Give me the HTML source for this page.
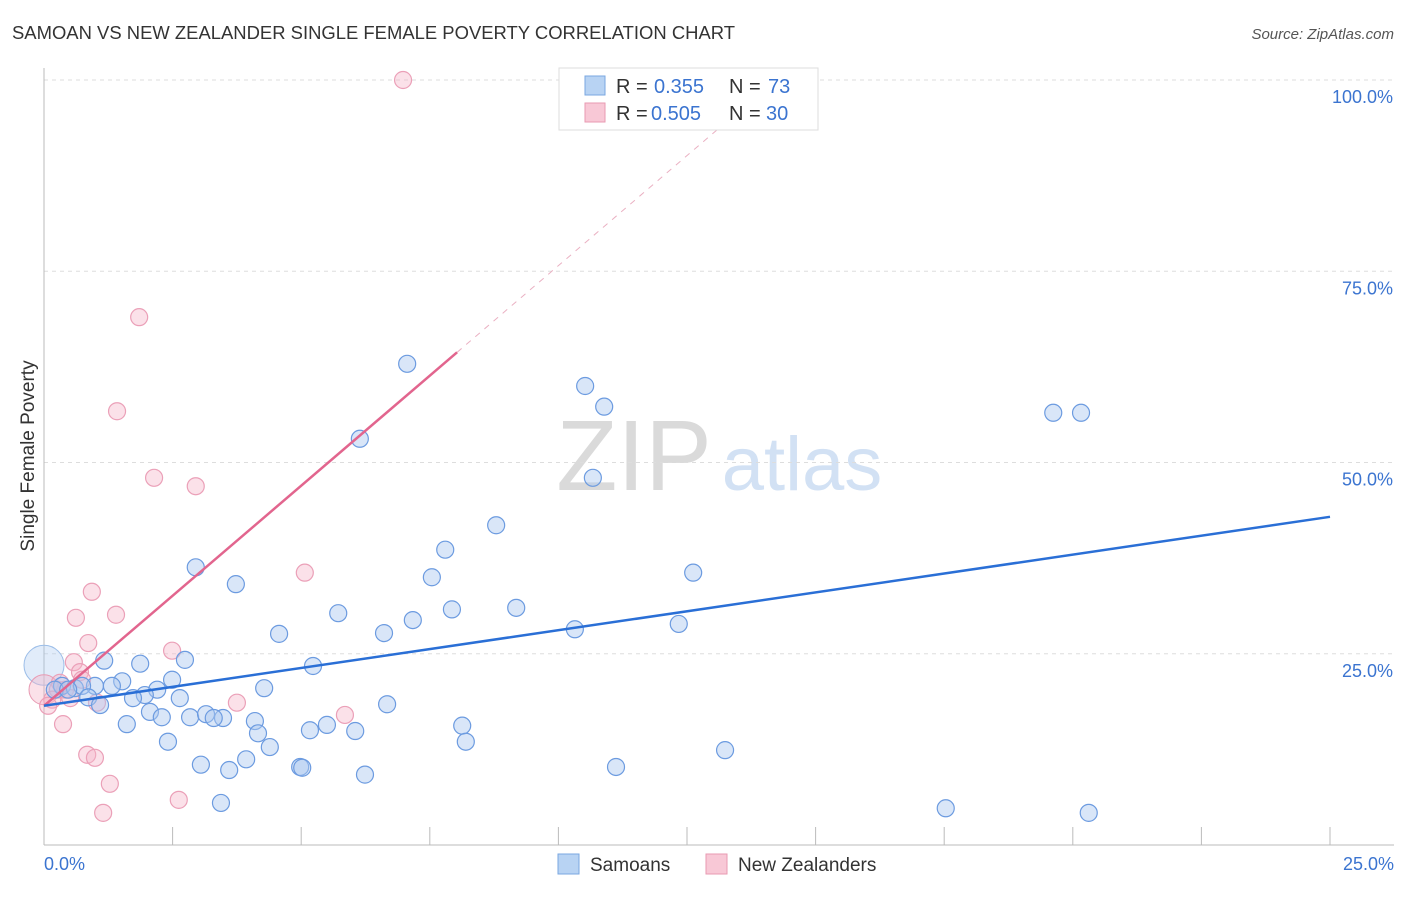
<!DOCTYPE html>
<html><head><meta charset="utf-8"><style>
body{margin:0;background:#fff;font-family:"Liberation Sans",sans-serif}
svg text{font-family:"Liberation Sans",sans-serif}
</style></head><body>
<svg id="c" width="1406" height="892">
<text x="12" y="39" font-size="18" fill="#333" textLength="723" lengthAdjust="spacingAndGlyphs">SAMOAN VS NEW ZEALANDER SINGLE FEMALE POVERTY CORRELATION CHART</text>
<text x="1394" y="39" font-size="15" fill="#555" text-anchor="end" font-style="italic">Source: ZipAtlas.com</text>
<text transform="translate(34,456) rotate(-90)" font-size="19" fill="#333" text-anchor="middle">Single Female Poverty</text>
<g><text x="634" y="490" font-size="100" fill="#dadada" text-anchor="middle" font-family="Liberation Serif">ZIP</text><text x="802" y="490" font-size="76" fill="#d2e1f4" text-anchor="middle">atlas</text></g>
<g id="grid"></g><g id="marks"></g>
<g>
<rect x="559" y="68" width="259" height="62" fill="#fff" stroke="#ddd"/>
<rect x="585" y="76" width="20" height="19" fill="#b8d3f3" stroke="#7aa7e0"/>
<rect x="585" y="103" width="20" height="19" fill="#f8c8d6" stroke="#e89ab2"/>
<text x="616" y="93" font-size="20" fill="#333">R =</text><text x="654" y="93" font-size="20" fill="#3b74d0">0.355</text>
<text x="729" y="93" font-size="20" fill="#333">N =</text><text x="768" y="93" font-size="20" fill="#3b74d0">73</text>
<text x="616" y="120" font-size="20" fill="#333">R =</text><text x="651" y="120" font-size="20" fill="#3b74d0">0.505</text>
<text x="729" y="120" font-size="20" fill="#333">N =</text><text x="766" y="120" font-size="20" fill="#3b74d0">30</text>
</g>
<g>
<rect x="558" y="854" width="21" height="20" fill="#b8d3f3" stroke="#7aa7e0"/>
<text x="590" y="871" font-size="19" fill="#333">Samoans</text>
<rect x="706" y="854" width="21" height="20" fill="#f8c8d6" stroke="#e89ab2"/>
<text x="738" y="871" font-size="19" fill="#333">New Zealanders</text>
</g>
</svg>
<script>
const yTicks=[25,50,75,100];
const xTickLabels=["0.0%","25.0%"];
const blueX=[7.06,10.52,10.89,19.62,20.16,6.14,10.67,8.79,7.80,2.95,3.73,7.54,12.62,5.72,7.93,9.18,7.17,4.57,6.61,10.32,12.34,1.17,2.74,1.87,5.23,1.52,2.49,4.28,0.99,1.32,0.35,0.60,0.74,2.20,1.96,2.64,1.73,0.86,1.09,6.67,2.06,2.29,2.84,3.15,3.48,3.30,4.10,1.61,5.50,8.13,5.17,6.05,4.16,2.41,8.20,4.39,13.24,3.05,3.93,3.60,4.98,5.02,11.12,6.24,3.44,17.53,20.31,0.21,0.47];
const blueY=[62.9,60.0,57.3,56.5,56.5,53.1,48.0,41.8,38.6,36.3,34.1,35.0,35.6,30.3,30.8,31.0,29.4,27.6,27.7,28.2,28.9,24.1,24.2,23.7,23.4,21.4,21.6,20.5,20.8,20.8,20.8,20.5,20.8,20.3,19.6,19.2,19.2,19.3,18.3,18.4,17.4,16.7,16.7,17.1,16.6,16.6,16.2,15.8,15.7,15.6,15.0,14.9,14.6,13.5,13.5,12.8,12.4,10.5,11.2,9.8,10.2,10.1,10.2,9.2,5.5,4.8,4.2,20.3,20.3];
const pinkX=[6.98,1.85,1.42,2.14,2.95,0.93,5.07,0.62,1.40,0.86,2.49,0.58,0.70,0.74,3.75,5.85,0.27,0.41,0.16,0.08,1.03,0.37,0.84,0.99,1.28,2.62,1.15,0.51,0.31];
const pinkY=[100,69.0,56.7,48.0,46.9,33.1,35.6,29.7,30.1,26.4,25.4,23.9,22.6,21.6,18.6,17.0,20.3,20.3,19.0,18.2,18.6,15.8,11.8,11.4,8.0,5.9,4.2,19.2,21.2];
const bigBlue=[0,23.5];const bigPink=[0,20.3];
const blueTrend=[18.2,42.9];const pinkTrend=[18.2,64.4,8.03];
const X=v=>44+v*51.44, Y=v=>845-v*7.65;
const NS="http://www.w3.org/2000/svg";
const g=document.getElementById('grid'),m=document.getElementById('marks');
function el(t,a,p){const e=document.createElementNS(NS,t);for(const k in a)e.setAttribute(k,a[k]);p.appendChild(e);return e;}
yTicks.forEach(t=>{
 const l=el('line',{x1:44,x2:1394,y1:Y(t),y2:Y(t),stroke:'#ddd','stroke-dasharray':'4,4'},g);
 
 
 const tx=el('text',{x:1393,y:Y(t)+23,'font-size':18,fill:'#3b74d0','text-anchor':'end'},g);tx.textContent=t.toFixed(1)+'%';
 
 
});
el('line',{x1:44,x2:44,y1:68,y2:845,stroke:'#bbb'},g);
el('line',{x1:44,x2:1394,y1:845,y2:845,stroke:'#bbb'},g);
for(let i=1;i<=10;i++){const xv=i*2.5;el('line',{x1:X(xv),x2:X(xv),y1:827,y2:845,stroke:'#bbb'},g);}
const xl0=el('text',{x:44,y:870,'font-size':18,fill:'#3b74d0'},g);xl0.textContent=xTickLabels[0];


const xl1=el('text',{x:1394,y:870,'font-size':18,fill:'#3b74d0','text-anchor':'end'},g);xl1.textContent=xTickLabels[1];


const bb=el('circle',{cx:X(bigBlue[0]),cy:Y(bigBlue[1]),r:20,fill:'rgba(170,200,240,0.35)',stroke:'#9bbde8'},m);


const bp=el('circle',{cx:X(bigPink[0]),cy:Y(bigPink[1]),r:15,fill:'rgba(245,180,200,0.4)',stroke:'#e89ab2'},m);


pinkX.forEach((x,i)=>{const c=el('circle',{cx:X(x),cy:Y(pinkY[i]),r:8.5,fill:'rgba(245,180,200,0.4)',stroke:'#eba0b8','stroke-width':1.2},m);
 
 });
blueX.forEach((x,i)=>{const c=el('circle',{cx:X(x),cy:Y(blueY[i]),r:8.5,fill:'rgba(170,200,240,0.45)',stroke:'#6c9be0','stroke-width':1.2},m);
 
 });
const slope=(pinkTrend[1]-pinkTrend[0])/pinkTrend[2];
const xEnd=(100-pinkTrend[0])/slope*0.96;
const pd=el('line',{x1:X(pinkTrend[2]),y1:Y(pinkTrend[1]),x2:X(xEnd),y2:Y(pinkTrend[0]+slope*xEnd),stroke:'#eab0c2','stroke-dasharray':'6,6'},m);


const pl=el('line',{x1:X(0),y1:Y(pinkTrend[0]),x2:X(pinkTrend[2]),y2:Y(pinkTrend[1]),stroke:'#e2658e','stroke-width':2.5},m);


const bl=el('line',{x1:X(0),y1:Y(blueTrend[0]),x2:X(25),y2:Y(blueTrend[1]),stroke:'#2a6fd6','stroke-width':2.5},m);


</script>
</body></html>
